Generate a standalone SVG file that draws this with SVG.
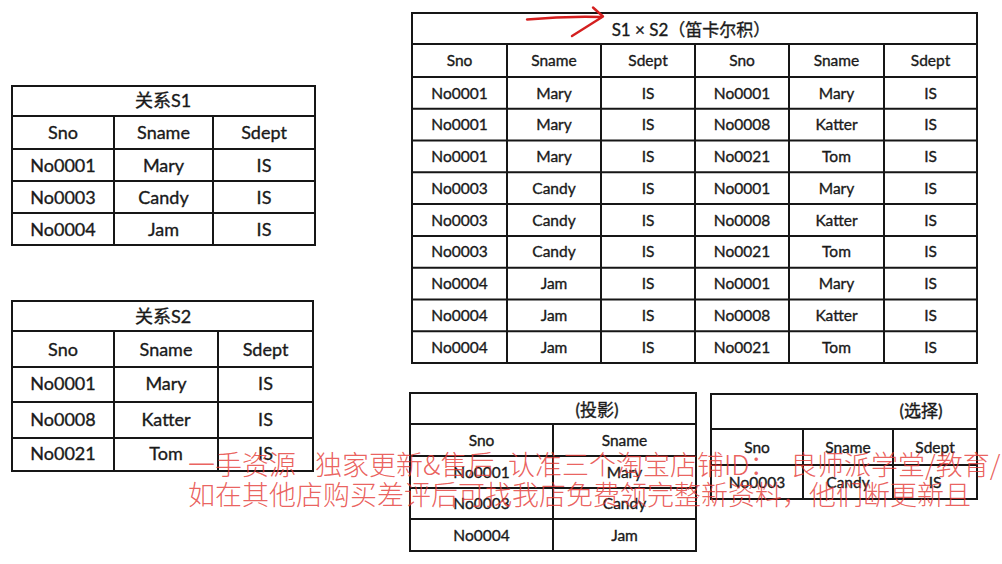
<svg xmlns="http://www.w3.org/2000/svg" width="1002" height="564" viewBox="0 0 1002 564">
<style>
.bg{fill:#ffffff}
.box{fill:#ffffff;stroke:#161616;stroke-width:2}
.ln{stroke:#161616;stroke-width:2;fill:none}
.t{font-family:Lato,"Noto Sans CJK SC",sans-serif;fill:#1a1a1a;stroke:#1a1a1a;stroke-width:0.35;text-anchor:middle}
.big{font-size:18px}
.mid{font-size:15.5px}
.ttl{font-size:17px}
.wm{font-family:"Noto Sans CJK SC",sans-serif;font-size:27px;font-weight:300;fill:#e53935;fill-opacity:0.8}
.arrow{fill:none;stroke:#d41f1f;stroke-width:2.4;stroke-linecap:round;stroke-linejoin:round}
</style>
<rect class="bg" x="0" y="0" width="1002" height="564"/>

<g id="table-s1">
<rect class="box" x="12" y="86" width="303" height="159"/>
<path class="ln" d="M12,116H315M12,149H315M12,181H315M12,213H315M114,116V245M213,116V245"/>
<text class="t big" x="163" y="107">关系S1</text>
<text class="t big" x="63" y="139">Sno</text><text class="t big" x="163.5" y="139">Sname</text><text class="t big" x="264" y="139">Sdept</text>
<text class="t big" x="63" y="171.5">No0001</text><text class="t big" x="163.5" y="171.5">Mary</text><text class="t big" x="264" y="171.5">IS</text>
<text class="t big" x="63" y="203.5">No0003</text><text class="t big" x="163.5" y="203.5">Candy</text><text class="t big" x="264" y="203.5">IS</text>
<text class="t big" x="63" y="235.5">No0004</text><text class="t big" x="163.5" y="235.5">Jam</text><text class="t big" x="264" y="235.5">IS</text>
</g>

<g id="table-s2">
<rect class="box" x="12" y="301" width="301" height="170"/>
<path class="ln" d="M12,331H313M12,367H313M12,402H313M12,438H313M114,331V471M218,331V471"/>
<text class="t big" x="163" y="322.5">关系S2</text>
<text class="t big" x="63" y="355.5">Sno</text><text class="t big" x="166" y="355.5">Sname</text><text class="t big" x="265.5" y="355.5">Sdept</text>
<text class="t big" x="63" y="389.5">No0001</text><text class="t big" x="166" y="389.5">Mary</text><text class="t big" x="265.5" y="389.5">IS</text>
<text class="t big" x="63" y="425.5">No0008</text><text class="t big" x="166" y="425.5">Katter</text><text class="t big" x="265.5" y="425.5">IS</text>
<text class="t big" x="63" y="460">No0021</text><text class="t big" x="166" y="460">Tom</text><text class="t big" x="265.5" y="460">IS</text>
</g>

<g id="table-product">
<rect class="box" x="412" y="13" width="565" height="350"/>
<path class="ln" d="M412,44H977M412,77H977M412,108.8H977M412,140.6H977M412,172.3H977M412,204.1H977M412,235.9H977M412,267.7H977M412,299.4H977M412,331.2H977M507,44V363M601,44V363M695,44V363M789,44V363M884,44V363"/>
<text class="t ttl" x="691" y="36">S1 × S2（笛卡尔积）</text>
<g class="t mid">
<text x="459.5" y="66">Sno</text><text x="554" y="66">Sname</text><text x="648" y="66">Sdept</text><text x="742" y="66">Sno</text><text x="836.5" y="66">Sname</text><text x="930.5" y="66">Sdept</text>
<text x="459.5" y="98.5">No0001</text><text x="554" y="98.5">Mary</text><text x="648" y="98.5">IS</text><text x="742" y="98.5">No0001</text><text x="836.5" y="98.5">Mary</text><text x="930.5" y="98.5">IS</text>
<text x="459.5" y="130.3">No0001</text><text x="554" y="130.3">Mary</text><text x="648" y="130.3">IS</text><text x="742" y="130.3">No0008</text><text x="836.5" y="130.3">Katter</text><text x="930.5" y="130.3">IS</text>
<text x="459.5" y="162.1">No0001</text><text x="554" y="162.1">Mary</text><text x="648" y="162.1">IS</text><text x="742" y="162.1">No0021</text><text x="836.5" y="162.1">Tom</text><text x="930.5" y="162.1">IS</text>
<text x="459.5" y="193.8">No0003</text><text x="554" y="193.8">Candy</text><text x="648" y="193.8">IS</text><text x="742" y="193.8">No0001</text><text x="836.5" y="193.8">Mary</text><text x="930.5" y="193.8">IS</text>
<text x="459.5" y="225.6">No0003</text><text x="554" y="225.6">Candy</text><text x="648" y="225.6">IS</text><text x="742" y="225.6">No0008</text><text x="836.5" y="225.6">Katter</text><text x="930.5" y="225.6">IS</text>
<text x="459.5" y="257.4">No0003</text><text x="554" y="257.4">Candy</text><text x="648" y="257.4">IS</text><text x="742" y="257.4">No0021</text><text x="836.5" y="257.4">Tom</text><text x="930.5" y="257.4">IS</text>
<text x="459.5" y="289.2">No0004</text><text x="554" y="289.2">Jam</text><text x="648" y="289.2">IS</text><text x="742" y="289.2">No0001</text><text x="836.5" y="289.2">Mary</text><text x="930.5" y="289.2">IS</text>
<text x="459.5" y="320.9">No0004</text><text x="554" y="320.9">Jam</text><text x="648" y="320.9">IS</text><text x="742" y="320.9">No0008</text><text x="836.5" y="320.9">Katter</text><text x="930.5" y="320.9">IS</text>
<text x="459.5" y="352.7">No0004</text><text x="554" y="352.7">Jam</text><text x="648" y="352.7">IS</text><text x="742" y="352.7">No0021</text><text x="836.5" y="352.7">Tom</text><text x="930.5" y="352.7">IS</text>
</g>
</g>

<g id="table-projection">
<rect class="box" x="410" y="393" width="286" height="158"/>
<path class="ln" d="M410,424H696M410,456H696M410,488H696M410,519H696M553,424V551"/>
<text class="t ttl" x="597" y="415.5">(投影)</text>
<g class="t mid">
<text x="481.5" y="445.5">Sno</text><text x="624.5" y="445.5">Sname</text>
<text x="481.5" y="477.5">No0001</text><text x="624.5" y="477.5">Mary</text>
<text x="481.5" y="509">No0003</text><text x="624.5" y="509">Candy</text>
<text x="481.5" y="540.5">No0004</text><text x="624.5" y="540.5">Jam</text>
</g>
</g>

<g id="table-selection">
<rect class="box" x="711" y="394" width="266" height="105"/>
<path class="ln" d="M711,429H977M711,465H977M803,429V499M893,429V499"/>
<text class="t ttl" x="921" y="416.5">(选择)</text>
<g class="t mid">
<text x="757" y="452.5">Sno</text><text x="848" y="452.5">Sname</text><text x="935" y="452.5">Sdept</text>
<text x="757" y="487.5">No0003</text><text x="848" y="487.5">Candy</text><text x="935" y="487.5">IS</text>
</g>
</g>

<g id="connectors">
<path class="arrow" d="M527,19.5Q565,16 601,17"/>
<path class="arrow" d="M593,7.5L603,16.5Q588,26 572,36"/>
</g>

<g id="watermark">
<text class="wm" y="475"><tspan x="188">一手资源</tspan><tspan x="315">独家更新&amp;售后</tspan><tspan x="508">认准三个淘宝店铺ID：</tspan><tspan x="790">良师派学堂/教育/</tspan></text>
<text class="wm" x="188" y="505">如在其他店购买差评后可找我店免费领完整新资料，他们断更新且</text>
</g>
</svg>
